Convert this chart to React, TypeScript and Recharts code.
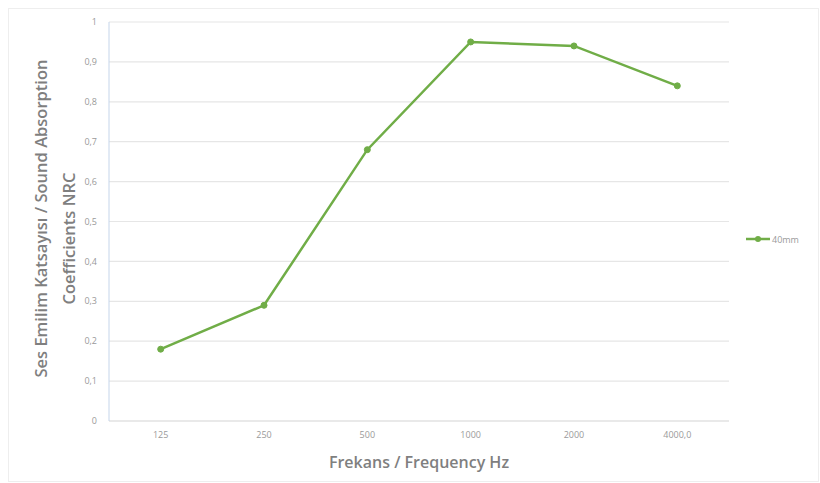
import React from "react";
import { LineChart, Line, XAxis, YAxis, CartesianGrid, Legend, Label } from "recharts";

const categories = ["125", "250", "500", "1000", "2000", "4000,0"];
const values40mm = [0.18, 0.29, 0.68, 0.95, 0.94, 0.84];
const yTicks = [0, 0.1, 0.2, 0.3, 0.4, 0.5, 0.6, 0.7, 0.8, 0.9, 1];
const seriesName = "40mm";
const xTitle = "Frekans / Frequency Hz";
const yTitleLines = ["Ses Emilim Katsayısı / Sound Absorption", "Coefficients NRC"];

const data = categories.map((c, i) => ({ cat: c, v: values40mm[i] }));

const GREEN = "#70ad47";
const FONT = "'Open Sans', 'Noto Sans', sans-serif";

const fmt = (v: number) => (v === 0 ? "0" : v === 1 ? "1" : String(v).replace(".", ","));

const YTitle = (props: any) => {
  const vb = props.viewBox || {};
  const cy = vb.y + vb.height / 2;
  const xs = [40, 68];
  const cys = [cy - 3, cy + 17];
  return (
    <g>
      {yTitleLines.map((t, i) => {
        const x = xs[i];
        const y = cys[i];
        return (
          <text
            key={i}
            x={x}
            y={y}
            transform={`rotate(-90 ${x} ${y})`}
            textAnchor="middle"
            dominantBaseline="central"
            fill="#7f7f7f"
            fontSize={16.5}
            fontWeight={600}
            fontFamily={FONT}
          >
            {t}
          </text>
        );
      })}
    </g>
  );
};

const LegendContent = () => (
  <svg width={60} height={14} style={{ display: "block" }}>
    <line x1={2} y1={7} x2={26} y2={7} stroke={GREEN} strokeWidth={2.5} />
    <circle cx={14} cy={7} r={3} fill={GREEN} />
    <text x={28} y={7} dominantBaseline="central" fontSize={9} fill="#9a9a9a" fontFamily={FONT}>
      {seriesName}
    </text>
  </svg>
);

export default function App() {
  return (
    <div style={{ position: "absolute", left: 0, top: 0, width: 820, height: 483, background: "#fff" }}>
      <div
        style={{
          position: "absolute",
          left: 8,
          top: 8,
          width: 811,
          height: 474,
          border: "1px solid #eeeeee",
          boxSizing: "border-box",
        }}
      />
      <LineChart
        width={820}
        height={483}
        data={data}
        margin={{ top: 22, right: 31, bottom: 30, left: 0 }}
      >
        <CartesianGrid vertical={false} stroke="#e6e6e6" strokeWidth={1.2} />
        <XAxis
          dataKey="cat"
          tickLine={false}
          axisLine={{ stroke: "#e0e0e0" }}
          tick={{ fontSize: 9, fill: "#9a9a9a", fontFamily: FONT }}
          tickMargin={5}
          height={32}
          interval={0}
          padding={{ left: 51.7, right: 51.7 }}
        >
          <Label
            value={xTitle}
            position="bottom"
            offset={4}
            fill="#7f7f7f"
            fontSize={16}
            fontWeight={600}
            fontFamily={FONT}
          />
        </XAxis>
        <YAxis
          type="number"
          domain={[0, 1]}
          ticks={yTicks}
          tickFormatter={fmt}
          tickLine={false}
          axisLine={{ stroke: "#c5d5ea" }}
          tick={{ fontSize: 9, fill: "#9a9a9a", fontFamily: FONT }}
          tickMargin={6}
          width={109}
        >
          <Label content={<YTitle />} position="left" />
        </YAxis>
        <Legend
          layout="vertical"
          align="right"
          verticalAlign="middle"
          content={<LegendContent />}
          wrapperStyle={{ right: 16, marginTop: -3 }}
        />
        <Line
          type="linear"
          dataKey="v"
          name={seriesName}
          stroke={GREEN}
          strokeWidth={2.5}
          dot={{ r: 3, fill: GREEN, stroke: GREEN, strokeWidth: 1 }}
          activeDot={false}
          isAnimationActive={false}
        />
      </LineChart>
    </div>
  );
}
